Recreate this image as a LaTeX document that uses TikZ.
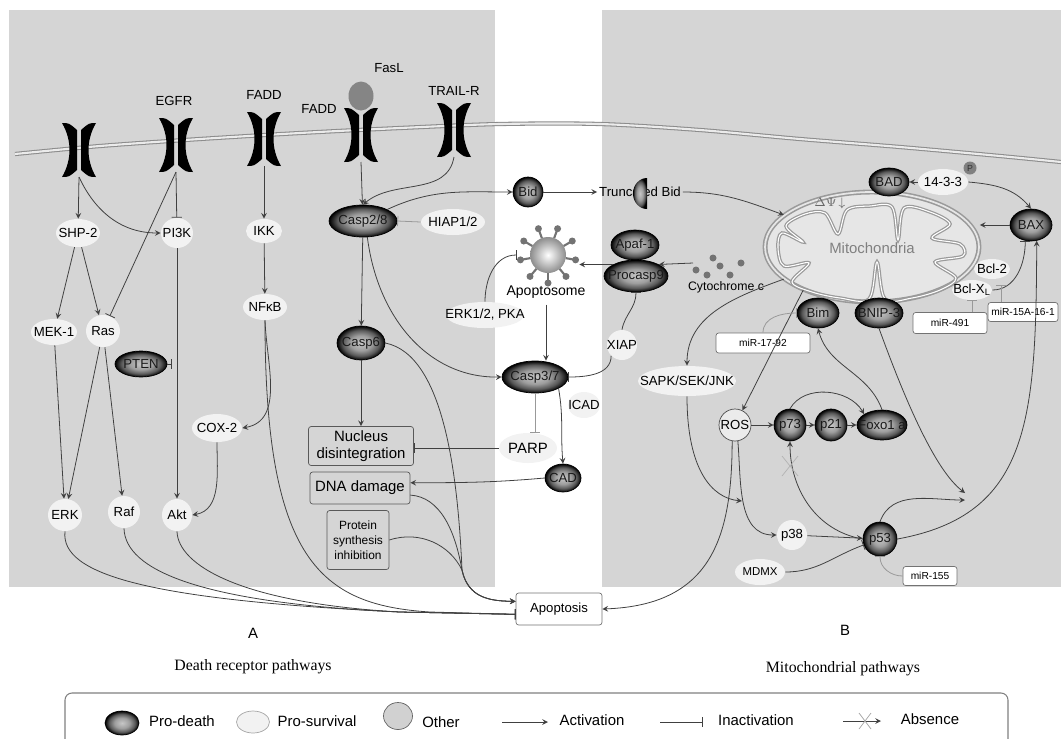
\documentclass[tikz,border=0pt]{standalone}
\usepackage{fontspec}
\setmainfont{Liberation Serif}
\setsansfont{Liberation Sans}
\usetikzlibrary{shapes.geometric}
\definecolor{panel}{HTML}{D5D5D5}
\definecolor{survfill}{HTML}{F2F2F2}
\definecolor{mitofill}{HTML}{E6E6E6}
\definecolor{mitoline}{HTML}{9A9A9A}
\pgfdeclareradialshading{deathball}{\pgfpoint{0bp}{0bp}}{color(0bp)=(black!22); color(11bp)=(black!38); color(19bp)=(black!65); color(25bp)=(black); color(50bp)=(black)}
\newlength{\pxu}
\setlength{\pxu}{0.02cm}

\begin{document}
\begin{tikzpicture}[x=0.02cm, y=-0.02cm, >=stealth,
    font=\sffamily\fontsize{7.5}{8}\selectfont,
    ell/.style 2 args={ellipse, inner sep=0pt, minimum width=#1\pxu, minimum height=#2\pxu,
        execute at begin node={\hbox to 0pt\bgroup\hss}, execute at end node={\hss\egroup}},
    surv/.style 2 args={ell={#1}{#2}, fill=survfill},
    death/.style 2 args={ell={#1}{#2}, draw=black, shading=deathball, text=black!90},
    othr/.style 2 args={ell={#1}{#2}, draw=black!70, fill=black!8},
    frm/.style 2 args={rectangle, draw=black!65, rounded corners=1.5pt, minimum width=#1\pxu, minimum height=#2\pxu, inner sep=1pt, align=center},
    mirbox/.style 2 args={frm={#1}{#2}, draw=black!55, fill=white, font=\sffamily\fontsize{5.8}{7}\selectfont},
    legtxt/.style={font=\sffamily\fontsize{8.5}{10}\selectfont},
    act/.style={->, black!75, line width=0.45pt},
    inh/.style={-|, black!75, line width=0.45pt},
    faint/.style={-|, black!40, line width=0.45pt}]
    \useasboundingbox (0,0) rectangle (1061,738);
    \clip (0,0) rectangle (1061,738);

    \fill[panel] (9,10) rectangle (495,587);
    \fill[panel] (602,10) rectangle (1061,587);
    \draw[black!45, line width=0.6pt, double=white!92!black, double distance=1.2pt] plot [smooth] coordinates {(15,154) (100,146) (200,139) (300,133) (400,128) (500,124) (600,124) (700,130) (800,139) (900,147) (1000,156) (1061,162)};

    \foreach \rx/\ry/\rn in {79/150/r1, 176/145/r2, 264/139/r3, 361/135/r4, 454/130/r5} {
        \fill[shift={(\rx,\ry)}] (-17,-27) .. controls (-10,-27) .. (-2,-20) -- (-2,20) .. controls (-10,27) .. (-17,27) .. controls (-7,10) and (-7,-10) .. (-17,-27) -- cycle;
        \fill[shift={(\rx,\ry)}] (17,-27) .. controls (10,-27) .. (2,-20) -- (2,20) .. controls (10,27) .. (17,27) .. controls (7,10) and (7,-10) .. (17,-27) -- cycle;
        \coordinate (\rn) at (\rx,\ry+27);
    }
    \node (egfr) at (174,101) {EGFR};
    \node (fadd1) at (264,95) {FADD};
    \node (fadd2) at (319,109) {FADD};
    \node (trailr) at (454,91) {TRAIL-R};
    \node (fasltext) at (389,68) {FasL};
    \node[ell={25}{29}, fill=black!48] (fasl) at (361,96) {};

    \node[surv={44}{28}] (shp2) at (78,233) {SHP-2};
    \node[surv={32}{30}] (pi3k) at (177,233) {PI3K};
    \node[surv={36}{24}] (ikk) at (264,231) {IKK};
    \node[death={68}{32}] (casp28) at (363,221) {Casp2/8};
    \node[surv={64}{26}] (hiap) at (453,222) {HIAP1/2};
    \node[surv={46}{26}] (mek1) at (54,332) {MEK-1};
    \node[surv={34}{32}] (ras) at (103,331) {Ras};
    \node[death={52}{26}] (pten) at (141,364) {PTEN};
    \node[surv={44}{26}] (nfkb) at (265,307) {NFκB};
    \node[surv={50}{28}] (cox2) at (217,428) {COX-2};
    \node[surv={34}{32}] (erk) at (65,515) {ERK};
    \node[surv={32}{32}] (raf) at (124,512) {Raf};
    \node[surv={30}{32}] (akt) at (177,515) {Akt};
    \node[death={48}{34}] (casp6) at (361,343) {Casp6};
    \node[frm={105}{39}, font=\sffamily\fontsize{8.5}{10}\selectfont] (nucleus) at (361,446) {Nucleus\\disintegration};
    \node[frm={100}{32}, font=\sffamily\fontsize{8.5}{10}\selectfont] (dna) at (360,488) {DNA damage};
    \node[frm={62}{59}, font=\sffamily\fontsize{6.8}{8.5}\selectfont] (protein) at (358,540) {Protein\\synthesis\\inhibition};

    \node[death={30}{30}] (bid) at (528,192) {Bid};
    \node[inner sep=1pt] (tbid) at (640,192) {Truncated Bid};
    \shade[shading=deathball] (647,209) arc[start angle=90, end angle=270, x radius=14, y radius=15.5] -- cycle;
    \node[circle, minimum size=62\pxu, inner sep=0pt] (apoptosome) at (548,255) {};
    \foreach \a in {10,50,...,330} {
        \draw[black!55, line width=1.2pt] (apoptosome.center) ++(\a:18) -- ++(\a:8);
        \fill[black!55] (apoptosome.center) ++(\a:28) circle (3.5);
    }
    \shade[inner color=white, outer color=black!45] (apoptosome.center) circle (18);
    \node[font=\sffamily\fontsize{8}{9}\selectfont] (aptlabel) at (546,292) {Apoptosome};
    \node[death={48}{30}] (apaf) at (635,245) {Apaf-1};
    \node[death={64}{32}] (procasp9) at (636,276) {Procasp9};
    \node[font=\sffamily\fontsize{7}{8}\selectfont] (cytc) at (726,287) {Cytochrome c};
    \foreach \dx/\dy in {696/270, 707/275, 713/258, 720/266, 730/275, 741/263}
        \fill[black!55] (\dx,\dy) circle (3.5);
    \coordinate (cyt) at (693,263);
    \node[surv={78}{26}] (erkpka) at (485,315) {ERK1/2, PKA};
    \node[surv={30}{30}] (xiap) at (622,345) {XIAP};
    \node[death={66}{32}] (casp37) at (535,377) {Casp3/7};
    \node[surv={32}{26}] (icad) at (584,405) {ICAD};
    \node[surv={58}{30}, font=\sffamily\fontsize{8.5}{10}\selectfont] (parp) at (528,448) {PARP};
    \node[death={36}{28}] (cad) at (563,478) {CAD};
    \node[frm={86}{32}, fill=white, draw=black!55] (apop) at (559,609) {Apoptosis};

    \node[ellipse, draw=mitoline, line width=0.9pt, double=mitofill, double distance=1pt, fill=mitofill, minimum width=214\pxu, minimum height=110\pxu, inner sep=0pt] (mito) at (872,247) {};
    \draw[mitoline, line width=0.7pt, double=white, double distance=0.6pt] plot [smooth cycle, tension=0.55] coordinates {(778,248) (782,233) (803,242) (786,226) (805,214) (825,213) (838,234) (847,210) (870,206) (892,207) (898,240) (904,208) (930,212) (950,224) (932,238) (960,244) (963,256) (935,262) (956,278) (940,290) (912,298) (885,299) (877,262) (869,299) (840,298) (812,292) (792,282) (809,263) (784,266)};
    \node[text=black!50, font=\sffamily\fontsize{8.5}{10}\selectfont] (mitolabel) at (872,248) {Mitochondria};
    \node[text=black!60] (dpsi) at (830,203) {$\Delta\Psi\!\downarrow$};

    \node[death={40}{28}] (bad) at (889,182) {BAD};
    \node[surv={50}{26}] (b1433) at (943,182) {14-3-3};
    \node[circle, fill=black!50, minimum size=13\pxu, inner sep=0pt, text=black!80, font=\sffamily\fontsize{5}{5}\selectfont] (phos) at (970,168) {P};
    \node[death={42}{32}] (bax) at (1031,225) {BAX};
    \node[surv={36}{20}] (bcl2) at (992,269) {Bcl-2};
    \node[surv={40}{20}] (bclxl) at (972,290) {Bcl-X\textsubscript{L}};
    \node[death={42}{30}] (bim) at (818,313) {Bim};
    \node[death={48}{30}] (bnip) at (879,313) {BNIP-3};
    \node[mirbox={74}{21}] (mir491) at (950,323) {miR-491};
    \node[mirbox={70}{19}] (mir15) at (1023,312) {miR-15A-16-1};
    \node[mirbox={94}{20}] (mir1792) at (763,343) {miR-17-92};
    \node[surv={98}{30}] (sapk) at (687,381) {SAPK/SEK/JNK};
    \node[othr={32}{32}] (ros) at (735,425) {ROS};
    \node[death={32}{32}] (p73) at (790,425) {p73};
    \node[death={32}{32}] (p21) at (831,425) {p21};
    \node[death={50}{30}] (foxo) at (882,425) {Foxo1 a};
    \node[surv={30}{30}] (p38) at (792,535) {p38};
    \node[death={34}{34}] (p53) at (880,539) {p53};
    \node[surv={50}{26}, font=\sffamily\fontsize{6.5}{7}\selectfont] (mdmx) at (760,572) {MDMX};
    \node[mirbox={54}{19}] (mir155) at (930,576) {miR-155};

    \node[font=\sffamily\fontsize{8.5}{10}\selectfont] (lblA) at (253,633) {A};
    \node[font=\sffamily\fontsize{8.5}{10}\selectfont] (lblB) at (845,630) {B};
    \node[font=\rmfamily\fontsize{9}{11}\selectfont] (titA) at (253,667) {Death receptor pathways};
    \node[font=\rmfamily\fontsize{9}{11}\selectfont] (titB) at (843,669) {Mitochondrial pathways};

    \draw[act] (r1) -- (shp2);
    \draw[act] (r1) to[out=-65, in=180] (pi3k.west);
    \draw[inh] (r2) -- (pi3k);
    \draw[inh] (r2) -- (ras);
    \draw[act] (shp2) -- (mek1);
    \draw[act] (shp2) -- (ras);
    \draw[act] (mek1) -- (erk);
    \draw[act] (ras) -- (erk);
    \draw[act] (ras) -- (raf);
    \draw[act] (pi3k) -- (akt);
    \coordinate (ptenend) at (172,364);
    \draw[inh] (pten) -- (ptenend);
    \draw[act] (r3) -- (ikk);
    \draw[act] (ikk) -- (nfkb);
    \draw[act] (nfkb.south) to[out=-88, in=10] (cox2.east);
    \draw[act] (cox2.south) to[out=-90, in=10] (akt.east);
    \draw[inh] (erk.south) .. controls (60,575) and (150,600) .. (400,612) -- (apop.187);
    \draw[inh] (raf.south) .. controls (125,570) and (200,603) .. (400,612) -- (apop.187);
    \draw[inh] (akt.south) .. controls (178,565) and (240,603) .. (400,612) -- (apop.187);
    \draw[inh] (nfkb.south) .. controls (265,560) and (320,605) .. (430,612) -- (apop.187);

    \draw[act] (r4) -- (casp28);
    \draw[act] (r5) to[out=-100, in=40] (casp28.north);
    \draw[act] (casp28.north east) to[out=25, in=180] (bid.west);
    \draw[faint] (hiap.west) -- (casp28.east);
    \draw[act] (casp28) -- (casp6);
    \draw[act] (casp28.-75) .. controls (378,320) and (430,378) .. (casp37.west);
    \draw[act] (casp6) -- (nucleus);
    \coordinate (join) at (462,570);
    \draw[act] (casp6.east) .. controls (445,355) and (458,480) .. (join) .. controls (468,598) and (490,601) .. (apop.170);
    \draw[act] (dna.-8) .. controls (440,497) and (455,530) .. (join) .. controls (468,598) and (490,601) .. (apop.170);
    \draw[act] (protein.east) .. controls (420,530) and (450,545) .. (join) .. controls (468,598) and (490,601) .. (apop.170);

    \draw[act] (bid) -- (tbid);
    \draw[act] (tbid.east) to[out=0, in=160] (mito.160);
    \draw[act] (cyt) -- (procasp9.north east);
    \draw[act] (procasp9.north west) -- (procasp9.north west -| apoptosome.east);
    \draw[inh] (erkpka.north) to[out=90, in=180] (apoptosome.west);
    \draw[act] (aptlabel.south) -- (aptlabel.south |- casp37.north);
    \draw[inh] (xiap.north) to[out=80, in=-90] (procasp9.south);
    \draw[inh] (xiap.south west) to[out=-90, in=0] (casp37.east);
    \draw[faint] (casp37.south) -- (casp37.south |- parp.north);
    \draw[inh] (parp.west) -- (parp.west -| nucleus.east);
    \draw[act] (casp37.south east) to[out=-80, in=95] (cad.north);
    \draw[act] (cad.west) to[out=185, in=0] (dna.6);

    \draw[act] (mito.200) to[out=200, in=90] (sapk.north);
    \draw[act] (mito.212) -- (ros);
    \draw[faint] (mir1792.north) to[out=90, in=180] (bim.west);
    \draw[act] (foxo.north) to[out=110, in=-75] (bim.south);
    \draw[act] (p73.north) to[out=60, in=120] (foxo.north west);
    \draw[act] (ros) -- (p73);
    \draw[act] (p73) -- (p21);
    \draw[act] (p21) -- (foxo);
    \draw[act] (p53.west) to[out=170, in=-90] (p73.south);
    \draw[black!30] (782,456) -- (798,476) (782,476) -- (798,456);
    \draw[act] (ros.-80) to[out=-85, in=180] (p38.west);
    \coordinate (sapkend) at (742,501);
    \draw[act] (sapk.south) .. controls (687,470) and (712,498) .. (sapkend);
    \draw[act] (ros.-100) .. controls (732,540) and (710,605) .. (apop.east);
    \draw[act] (p38) -- (p53);
    \draw[inh] (mdmx.east) to[out=0, in=200] (p53.200);
    \draw[faint] (mir155.west) to[out=180, in=-90] (p53.south);
    \coordinate (p53end) at (965,500);
    \coordinate (bnipend) at (965,493);
    \draw[act] (p53.north) to[out=70, in=180] (p53end);
    \draw[act] (bnip.south) .. controls (905,400) and (935,470) .. (bnipend);
    \draw[act] (p53.east) .. controls (1030,515) and (1036,420) .. (bax.290);
    \draw[act] (bax.west) -- (bax.west -| mito.east);
    \draw[act] (b1433.west) -- (bad.east);
    \draw[act] (b1433.east) to[out=-5, in=130] (bax.north);
    \draw[inh] (bclxl.east) to[out=0, in=-90] (bax.250);
    \draw[faint] (bclxl.south |- mir491.north) -- (bclxl.south);
    \coordinate (bcl2in) at (1001,285);
    \draw[faint] (bcl2in |- mir15.north) -- (bcl2in);

    \draw[black!50, rounded corners=4pt, line width=0.6pt] (65,693) rectangle (1008,750);
    \node[death={34}{24}] (kdeath) at (122,723) {};
    \node[legtxt] (tdeath) at (182,721) {Pro-death};
    \node[surv={33}{22}, draw=black!35] (ksurv) at (253,722) {};
    \node[legtxt] (tsurv) at (317,721) {Pro-survival};
    \node[othr={29}{27}, fill=black!18, draw=black!60] (kother) at (398,716) {};
    \node[legtxt] (tother) at (441,722) {Other};
    \coordinate (kact1) at (502,722);
    \coordinate (kact2) at (548,722);
    \draw[act] (kact1) -- (kact2);
    \node[legtxt] (tact) at (592,720) {Activation};
    \coordinate (kinh1) at (660,722);
    \coordinate (kinh2) at (703,722);
    \draw[inh] (kinh1) -- (kinh2);
    \node[legtxt] (tinh) at (756,720) {Inactivation};
    \coordinate (kabs1) at (843,721);
    \coordinate (kabs2) at (881,721);
    \draw[act] (kabs1) -- (kabs2);
    \draw[black!35] (859,713) -- (871,729) (859,729) -- (871,713);
    \node[legtxt] (tabs) at (930,719) {Absence};
\end{tikzpicture}
\end{document}
